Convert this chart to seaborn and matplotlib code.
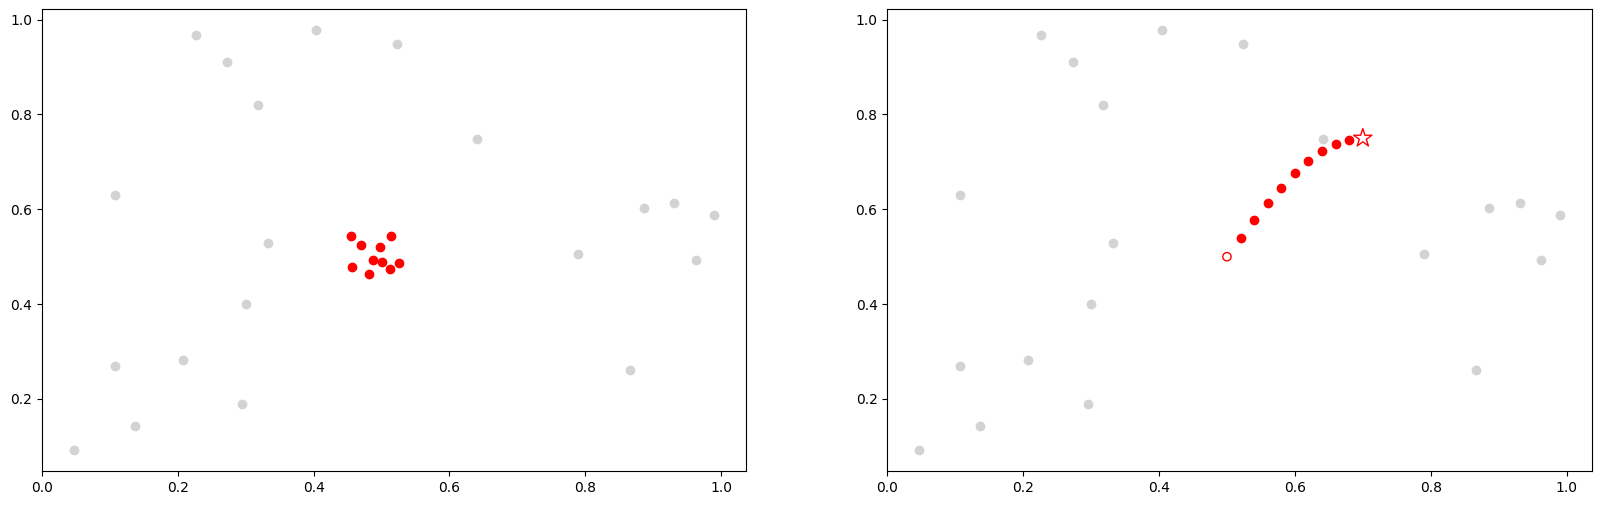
import matplotlib
matplotlib.use("Agg")
import matplotlib.pyplot as plt
import seaborn as sns
import pandas as pd

# background (gray) points
bg_x = [0.047, 0.107, 0.107, 0.137, 0.207, 0.227, 0.273, 0.295, 0.300, 0.318,
        0.333, 0.404, 0.523, 0.641, 0.790, 0.866, 0.886, 0.931, 0.963, 0.990]
bg_y = [0.092, 0.630, 0.269, 0.143, 0.282, 0.968, 0.911, 0.189, 0.400, 0.819,
        0.529, 0.979, 0.949, 0.749, 0.506, 0.261, 0.603, 0.613, 0.493, 0.589]

# left panel: red cluster
cluster_x = [0.455, 0.470, 0.498, 0.514, 0.457, 0.488, 0.501, 0.481, 0.513, 0.525]
cluster_y = [0.544, 0.525, 0.520, 0.544, 0.478, 0.493, 0.489, 0.464, 0.474, 0.487]

# right panel: path
start_x = [0.50]
start_y = [0.50]
path_x = [0.52, 0.54, 0.56, 0.58, 0.60, 0.62, 0.64, 0.66, 0.68]
path_y = [0.540, 0.577, 0.613, 0.646, 0.676, 0.701, 0.722, 0.738, 0.746]
target_x = [0.70]
target_y = [0.75]

sns.set_style("ticks")
plt.rcParams["font.family"] = ["DejaVu Sans"]

fig, axes = plt.subplots(1, 2, figsize=(16.01, 5.05), dpi=100)
axes[0].set_position([0.0262, 0.067, 0.4400, 0.915])
axes[1].set_position([0.5542, 0.067, 0.4401, 0.915])

bg = pd.DataFrame({"x": bg_x, "y": bg_y})

ax = axes[0]
sns.scatterplot(data=bg, x="x", y="y", ax=ax, color="lightgray", s=36,
                edgecolor="lightgray", linewidth=1)
sns.scatterplot(x=cluster_x, y=cluster_y, ax=ax, color="red", s=36,
                edgecolor="red", linewidth=1)

ax = axes[1]
sns.scatterplot(data=bg, x="x", y="y", ax=ax, color="lightgray", s=36,
                edgecolor="lightgray", linewidth=1)
sns.scatterplot(x=path_x, y=path_y, ax=ax, color="red", s=36,
                edgecolor="red", linewidth=1)
ax.scatter(start_x, start_y, s=36, facecolors="none", edgecolors="red", linewidths=1)
ax.scatter(target_x, target_y, s=190, marker="*", facecolors="none",
           edgecolors="red", linewidths=1)

for ax in axes:
    ax.set_xlabel("")
    ax.set_ylabel("")
    for sp in ax.spines.values():
        sp.set_visible(True)
        sp.set_color("black")
        sp.set_linewidth(0.8)
    ax.tick_params(labelsize=10, colors="black")
    ax.set_xlim(0.0, 1.0372)
    ax.set_ylim(0.0477, 1.0223)
    ax.set_xticks([0.0, 0.2, 0.4, 0.6, 0.8, 1.0])
    ax.set_yticks([0.2, 0.4, 0.6, 0.8, 1.0])

fig.savefig("out.png", dpi=100)
